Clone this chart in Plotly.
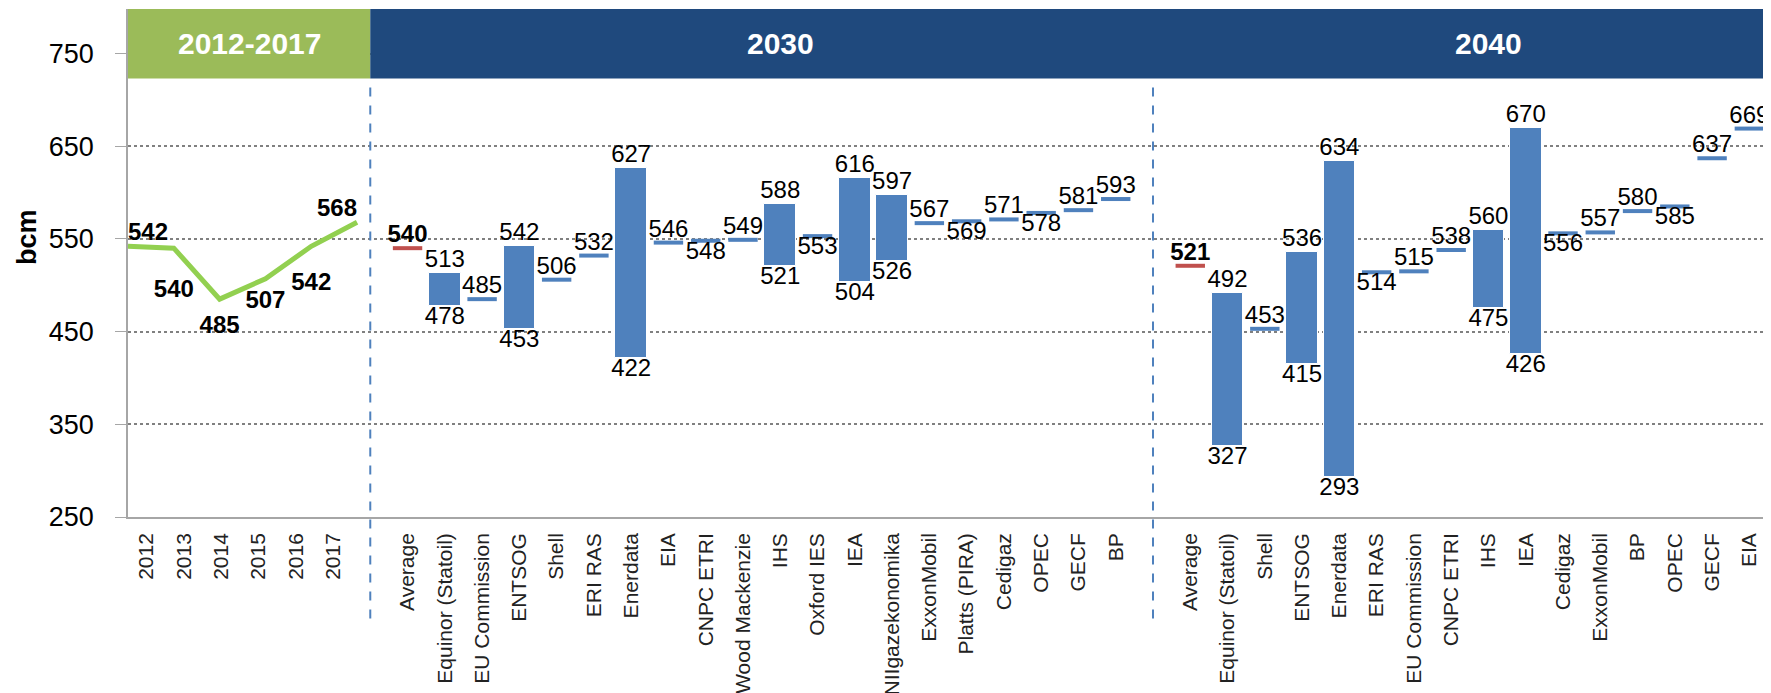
import plotly.graph_objects as go

# ---------------- data ----------------
years = ["2012", "2013", "2014", "2015", "2016", "2017"]
hist_values = [542, 540, 485, 507, 542, 568]

sources_2030 = ["Average", "Equinor (Statoil)", "EU Commission", "ENTSOG", "Shell", "ERI RAS",
                "Enerdata", "EIA", "CNPC ETRI", "Wood Mackenzie", "IHS", "Oxford IES", "IEA",
                "NIIgazekonomika", "ExxonMobil", "Platts (PIRA)", "Cedigaz", "OPEC", "GECF", "BP"]
low_2030 = [540, 478, 485, 453, 506, 532, 422, 546, 548, 549, 521, 553, 504, 526, 567, 569, 571, 578, 581, 593]
high_2030 = [540, 513, 485, 542, 506, 532, 627, 546, 548, 549, 588, 553, 616, 597, 567, 569, 571, 578, 581, 593]

sources_2040 = ["Average", "Equinor (Statoil)", "Shell", "ENTSOG", "Enerdata", "ERI RAS", "EU Commission",
                "CNPC ETRI", "IHS", "IEA", "Cedigaz", "ExxonMobil", "BP", "OPEC", "GECF", "EIA"]
low_2040 = [521, 327, 453, 415, 293, 514, 515, 538, 475, 426, 556, 557, 580, 585, 637, 669]
high_2040 = [521, 492, 453, 536, 634, 514, 515, 538, 560, 670, 556, 557, 580, 585, 637, 669]

# ---------------- styles ----------------
FONT = "Liberation Sans, Arial, sans-serif"
BAR_BLUE = "#4F81BD"
AVG_RED = "#C0504D"
LINE_GREEN = "#92D050"
HEAD_GREEN = "#9BBB59"
HEAD_BLUE = "#1F497D"
LABEL_SIZE = 24
hist_label_pos = ["top right", "bottom center", "bottom center", "bottom center", "bottom center", "top left"]
hist_label_pad = [0, 48, 24, 16, 40, 0]   # invisible marker sizes that push labels away from the line
side_2030 = ["top", "", "top", "", "top", "top", "", "top", "bottom", "top", "", "bottom", "", "",
             "top", "bottom", "top", "bottom", "top", "top"]
side_2040 = ["top", "", "top", "", "", "bottom", "top", "top", "", "", "bottom", "top", "top",
             "bottom", "top", "top"]

Y_MIN, Y_MAX = 250, 798
HEAD_BOTTOM = 723

# slot layout: years, gap, 2030 sources, gap, 2040 sources
x_years = list(range(len(years)))
start_2030 = len(years) + 1
x_2030 = [start_2030 + i for i in range(len(sources_2030))]
start_2040 = x_2030[-1] + 2
x_2040 = [start_2040 + i for i in range(len(sources_2040))]
n_slots = x_2040[-1] + 1

fig = go.Figure()


def add_group(xs, lows, highs, sides):
    bx, bbase, by = [], [], []
    sx, sy, sc = [], [], []
    for i, (x, lo, hi) in enumerate(zip(xs, lows, highs)):
        if hi > lo:
            bx.append(x); bbase.append(lo); by.append(hi - lo)
        else:
            sx.append(x); sy.append(hi); sc.append(AVG_RED if i == 0 else BAR_BLUE)
    fig.add_trace(go.Bar(x=bx, y=by, base=bbase, width=0.85,
                         marker=dict(color=BAR_BLUE, line=dict(color="white", width=1)),
                         showlegend=False, hoverinfo="skip"))
    fig.add_trace(go.Scatter(x=sx, y=sy, mode="markers",
                             marker=dict(symbol="line-ew", size=21,
                                         line=dict(color=sc, width=4)),
                             showlegend=False, hoverinfo="skip"))
    # labels (average handled separately in bold)
    tx, ty, tt, tp = [], [], [], []
    for i, (x, lo, hi) in enumerate(zip(xs, lows, highs)):
        if i == 0:
            continue
        if hi > lo:
            tx += [x, x]; ty += [hi, lo]; tt += [str(hi), str(lo)]
            tp += ["top center", "bottom center"]
        else:
            tx.append(x); ty.append(hi); tt.append(str(hi))
            tp.append(sides[i] + " center")
    fig.add_trace(go.Scatter(x=tx, y=ty, mode="text", text=tt, textposition=tp, cliponaxis=False,
                             textfont=dict(family=FONT, size=LABEL_SIZE, color="black"),
                             showlegend=False, hoverinfo="skip"))
    fig.add_trace(go.Scatter(x=[xs[0]], y=[highs[0]], mode="text", text=["<b>%d</b>" % highs[0]],
                             textposition="top center", cliponaxis=False,
                             textfont=dict(family=FONT, size=LABEL_SIZE, color="black"),
                             showlegend=False, hoverinfo="skip"))


add_group(x_2030, low_2030, high_2030, side_2030)
add_group(x_2040, low_2040, high_2040, side_2040)

# historical line on a helper axis (Excel line axis spans differently)
fig.add_trace(go.Scatter(x=list(range(len(years))), y=hist_values, mode="lines",
                         line=dict(color=LINE_GREEN, width=5), cliponaxis=False,
                         xaxis="x2", showlegend=False, hoverinfo="skip"))
fig.add_trace(go.Scatter(x=list(range(len(years))), y=hist_values, mode="markers+text",
                         marker=dict(size=hist_label_pad, opacity=0),
                         text=["<b>%d</b>" % v for v in hist_values], textposition=hist_label_pos,
                         textfont=dict(family=FONT, size=LABEL_SIZE, color="black"),
                         cliponaxis=False, xaxis="x2", showlegend=False, hoverinfo="skip"))

tickvals = x_years + x_2030 + x_2040
ticktext = years + sources_2030 + sources_2040

# header shapes
shapes = [
    dict(type="rect", xref="x", yref="y", x0=-0.5, x1=start_2030 - 1, y0=HEAD_BOTTOM, y1=Y_MAX,
         fillcolor=HEAD_GREEN, line=dict(width=0), layer="above"),
    dict(type="rect", xref="x", yref="y", x0=start_2030 - 1, x1=n_slots + 0.5, y0=HEAD_BOTTOM, y1=Y_MAX,
         fillcolor=HEAD_BLUE, line=dict(width=0), layer="above"),
]
head_frac = (HEAD_BOTTOM - Y_MIN) / (Y_MAX - Y_MIN)
for xd in [start_2030 - 1, start_2040 - 1]:
    shapes.append(dict(type="line", xref="x", yref="paper", x0=xd, x1=xd, y0=-0.2, y1=head_frac,
                       line=dict(color=BAR_BLUE, width=2, dash="dash")))

head_y = (HEAD_BOTTOM + Y_MAX) / 2
annotations = [
    dict(x=(-0.5 + start_2030 - 1) / 2, y=head_y, xref="x", yref="y", text="<b>2012-2017</b>",
         showarrow=False, font=dict(family=FONT, size=30, color="white")),
    dict(x=(x_2030[0] + x_2030[-1]) / 2 + 0.5, y=head_y, xref="x", yref="y", text="<b>2030</b>",
         showarrow=False, font=dict(family=FONT, size=30, color="white")),
    dict(x=(x_2040[0] + x_2040[-1]) / 2 + 0.5, y=head_y, xref="x", yref="y", text="<b>2040</b>",
         showarrow=False, font=dict(family=FONT, size=30, color="white")),
    dict(x=-0.0616, y=0.551, xref="paper", yref="paper", text="<b>bcm</b>", textangle=-90,
         xanchor="center", yanchor="middle",
         showarrow=False, font=dict(family=FONT, size=27, color="black")),
]

# the page body adds an 8px margin, so the figure is sized to fit the window
fig.update_layout(
    width=1763, height=685,
    margin=dict(l=120, r=3, t=1, b=176, autoexpand=False),
    paper_bgcolor="white", plot_bgcolor="white",
    bargap=0, barmode="overlay",
    shapes=shapes, annotations=annotations,
    xaxis=dict(range=[-0.5, n_slots - 0.5], tickmode="array", tickvals=tickvals, ticktext=ticktext,
               tickangle=-90, tickfont=dict(family=FONT, size=21, color="#222222"),
               showgrid=False, zeroline=False, showline=True, linecolor="#A6A6A6", linewidth=1.5,
               ticks="", ticklabelstandoff=6, automargin=False),
    xaxis2=dict(overlaying="x", range=[0, 35.8], visible=False),
    yaxis=dict(range=[Y_MIN, Y_MAX], tickvals=[250, 350, 450, 550, 650, 750],
               tickfont=dict(family=FONT, size=27, color="black"),
               showgrid=True, gridcolor="#808080", griddash="dot", gridwidth=1.5,
               zeroline=False, showline=True, linecolor="#A6A6A6", linewidth=1.5,
               ticks="outside", ticklen=11, tickcolor="#A6A6A6", ticklabelstandoff=16,
               automargin=False),
)

fig.write_html("out.html")
